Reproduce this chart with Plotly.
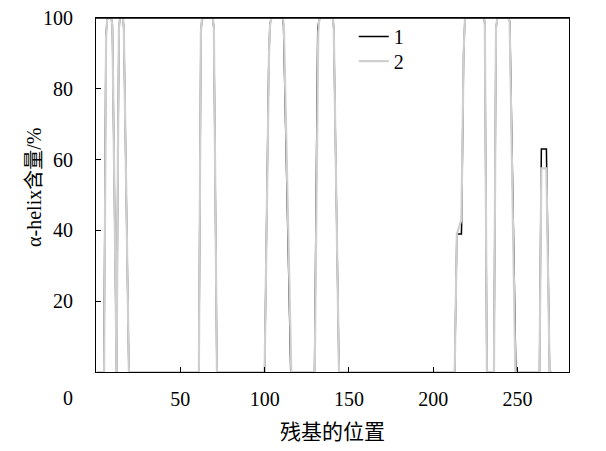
import plotly.graph_objects as go

# Series 1 (black) breakpoints: residue position and alpha-helix content (%)
x1 = [1, 4.7, 5.9, 6.6, 7.2, 9.0, 9.7, 12.2, 13.0, 13.6, 14.2, 16.0, 16.5, 19.5,
      61.0, 62.2, 62.8, 63.5, 69.3, 69.9, 71.7,
      100.0, 102.4, 103.1, 103.9, 110.6, 111.2, 115.5,
      129.6, 131.5, 132.3, 133.1, 140.5, 141.0, 144.1,
      212.7, 214.0, 216.7, 216.8, 218.0, 218.8, 230.2, 230.6, 231.8,
      236.0, 237.2, 238.0, 244.6, 245.4, 249.0,
      263.0, 264.1, 267.1, 269.0, 270]
y1 = [0, 0, 95, 99.5, 100, 100, 98, 0, 60, 97, 100, 100, 97, 0,
      0, 96, 99.5, 100, 100, 97, 0,
      0, 86, 98, 100, 100, 98, 0,
      0, 97, 99.5, 100, 100, 97, 0,
      0, 39, 39, 41, 90, 100, 100, 98, 0,
      0, 97, 100, 100, 99, 0,
      0, 63, 63, 0, 0]

# Series 2 (grey) breakpoints
x2 = [1, 4.8, 6.0, 6.6, 7.2, 9.0, 9.7, 12.2, 13.0, 13.6, 14.2, 16.0, 16.5, 19.5,
      61.0, 62.2, 62.8, 63.5, 69.3, 69.9, 71.7,
      100.0, 102.6, 103.2, 104.0, 110.8, 111.4, 115.8,
      129.7, 131.8, 132.4, 133.2, 140.5, 141.0, 144.1,
      212.7, 214.0, 216.7, 218.0, 218.8, 230.2, 230.6, 231.8,
      236.0, 237.2, 238.0, 244.6, 245.3, 248.7,
      263.0, 264.1, 267.1, 269.0, 270]
y2 = [0, 0, 95, 99.5, 100, 100, 98, 0, 60, 97, 100, 100, 97, 0,
      0, 96, 99.5, 100, 100, 97, 0,
      0, 90, 98, 100, 100, 98, 0,
      0, 96, 99.5, 100, 100, 97, 0,
      0, 39, 43, 90, 100, 100, 98, 0,
      0, 97, 100, 100, 99, 0,
      0, 57.5, 57.5, 0, 0]

series_names = ["1", "2"]
x_ticks = [50, 100, 150, 200, 250]
y_ticks = [20, 40, 60, 80, 100]

FONT = "Liberation Serif, Times New Roman, Noto Sans CJK SC, serif"

fig = go.Figure()
fig.add_trace(go.Scatter(x=x1, y=y1, mode="lines", name=series_names[0],
                         line=dict(color="#000000", width=1.5), legend="legend"))
fig.add_trace(go.Scatter(x=x2, y=y2, mode="lines", name=series_names[1],
                         line=dict(color="#cfcfcf", width=2.2), legend="legend2"))

axis_common = dict(showline=True, linecolor="black", linewidth=1.2, mirror=True,
                   ticks="inside", ticklen=5, tickcolor="black", tickwidth=1,
                   showgrid=False, zeroline=False, automargin=False,
                   tickfont=dict(family=FONT, size=20, color="black"))

fig.update_xaxes(range=[0, 280.5], tickvals=x_ticks, ticklabelstandoff=9, **axis_common)
fig.update_yaxes(range=[0, 100], tickvals=y_ticks, ticklabelstandoff=18, **axis_common)

legend_common = dict(xanchor="left", yanchor="middle", bgcolor="rgba(0,0,0,0)",
                     font=dict(family=FONT, size=20, color="black"))

fig.update_layout(
    width=606, height=451,
    margin=dict(l=96, r=37, t=18, b=79),
    plot_bgcolor="white", paper_bgcolor="white",
    font=dict(family=FONT, size=20, color="black"),
    showlegend=True,
    legend=dict(x=0.545, y=0.948, **legend_common),
    legend2=dict(x=0.545, y=0.878, **legend_common),
    shapes=[dict(type="line", xref="paper", yref="paper", x0=0, y0=1, x1=1, y1=1,
                 line=dict(color="black", width=1.6), layer="above")],
    annotations=[
        dict(text="残基的位置", xref="paper", yref="paper", x=0.5, y=0,
             xanchor="center", yanchor="middle", yshift=-60, showarrow=False,
             font=dict(family=FONT, size=21, color="black")),
        dict(text="α-helix含量/%", xref="paper", yref="paper", x=0, y=0.52,
             xanchor="center", yanchor="middle", xshift=-62, textangle=-90,
             showarrow=False, font=dict(family=FONT, size=20, color="black")),
        dict(text="0", xref="paper", yref="paper", x=0, y=0,
             xanchor="center", yanchor="middle", xshift=-28, yshift=-26,
             showarrow=False, font=dict(family=FONT, size=20, color="black")),
    ],
)

fig.write_html("out.html", config={"displayModeBar": False},
               post_script="document.body.style.margin='0';document.body.style.overflow='hidden';")
